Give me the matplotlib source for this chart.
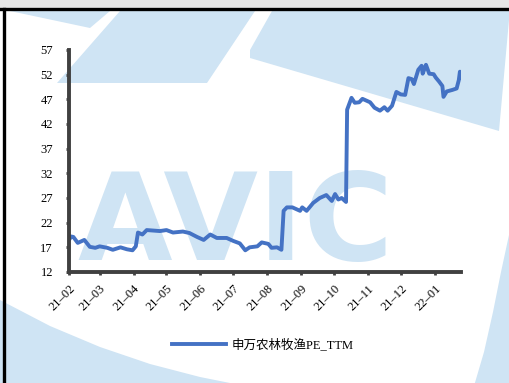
import pandas as pd
import matplotlib.pyplot as plt
import matplotlib.dates as mdates
from matplotlib.patches import Polygon, Rectangle

# 申万农林牧渔 PE-TTM
dates = ["2021-02-01", "2021-02-03", "2021-02-05", "2021-02-09", "2021-02-15", "2021-02-20",
         "2021-02-25", "2021-03-01", "2021-03-08", "2021-03-13", "2021-03-20", "2021-03-26",
         "2021-03-31", "2021-04-03", "2021-04-05", "2021-04-09", "2021-04-13", "2021-04-25",
         "2021-05-01", "2021-05-07", "2021-05-16", "2021-05-22", "2021-05-29", "2021-06-04",
         "2021-06-10", "2021-06-16", "2021-06-25", "2021-07-01", "2021-07-07", "2021-07-12",
         "2021-07-16", "2021-07-23", "2021-07-27", "2021-08-02", "2021-08-05", "2021-08-10",
         "2021-08-14", "2021-08-16", "2021-08-19", "2021-08-24", "2021-08-31", "2021-09-02",
         "2021-09-06", "2021-09-12", "2021-09-18", "2021-09-24", "2021-09-29", "2021-10-02",
         "2021-10-05", "2021-10-08", "2021-10-12", "2021-10-13", "2021-10-17", "2021-10-20",
         "2021-10-24", "2021-10-27", "2021-11-03", "2021-11-07", "2021-11-12", "2021-11-16",
         "2021-11-19", "2021-11-23", "2021-11-27", "2021-12-01", "2021-12-05", "2021-12-08",
         "2021-12-11", "2021-12-13", "2021-12-17", "2021-12-20", "2021-12-21", "2021-12-24",
         "2021-12-27", "2021-12-31", "2022-01-02", "2022-01-05", "2022-01-08", "2022-01-09",
         "2022-01-12", "2022-01-17", "2022-01-21", "2022-01-23", "2022-01-24", "2022-01-25"]
pe_ttm = [18.5, 19.2, 19.1, 17.9, 18.5, 17.1,
          16.9, 17.2, 16.9, 16.5, 17.0, 16.6,
          16.4, 17.2, 20.0, 19.6, 20.5, 20.3,
          20.5, 20.0, 20.2, 19.9, 19.1, 18.5,
          19.6, 18.9, 18.9, 18.3, 17.8, 16.4,
          17.0, 17.2, 18.0, 17.7, 16.9, 17.0,
          16.5, 24.4, 25.1, 25.1, 24.4, 25.1,
          24.4, 26.0, 27.0, 27.6, 26.4, 27.8,
          26.7, 27.0, 26.2, 44.9, 47.3, 46.3,
          46.4, 47.1, 46.4, 45.3, 44.7, 45.4,
          44.7, 45.7, 48.5, 48.0, 47.9, 51.3,
          51.1, 50.1, 53.0, 53.8, 52.2, 54.0,
          52.2, 52.1, 51.4, 50.6, 49.7, 47.5,
          48.6, 48.9, 49.2, 50.9, 52.6, 51.4]
series_name = "申万农林牧渔PE_TTM"
y_ticks = [12, 17, 22, 27, 32, 37, 42, 47, 52, 57]

dates = pd.to_datetime(dates)
month_ticks = pd.date_range("2021-02-01", "2022-01-01", freq="MS")

wm = "#cfe4f4"
W, H = 509, 383

fig = plt.figure(figsize=(W / 100, H / 100), dpi=100)

# background layer in pixel units: watermark, header band, border
bg = fig.add_axes([0, 0, 1, 1], zorder=-1)
bg.set_xlim(0, W)
bg.set_ylim(H, 0)
bg.axis("off")
bg.add_patch(Polygon([(0, 300), (50, 326), (100, 347), (150, 364), (200, 377),
                      (245, 386), (0, 386)], color=wm, lw=0))
bg.add_patch(Polygon([(474, 386), (484, 352), (493, 312), (501, 272), (509, 235),
                      (509, 386)], color=wm, lw=0))
bg.add_patch(Polygon([(10, 11), (110, 11), (90, 28)], color=wm, lw=0))
bg.add_patch(Polygon([(120, 11), (255, 11), (207, 83), (57, 83)], color=wm, lw=0))
bg.add_patch(Polygon([(272, 11), (509, 11), (509, 20), (499, 131), (250, 58), (250, 50)],
                     color=wm, lw=0))
bg.text(236, 260, "AVIC", fontsize=88, fontweight="bold", color=wm,
        ha="center", va="baseline", family="DejaVu Sans")
bg.add_patch(Rectangle((0, 0), W, 8, color="#e6e6e6", lw=0))
bg.plot([0, W], [9, 9], color="black", lw=2.4)
bg.plot([4, 4], [9, H], color="black", lw=2.4)

ax = fig.add_axes([69 / W, 1 - 272 / H, (461 - 69) / W, (272 - 50) / H])
ax.patch.set_alpha(0)
ax.plot(dates, pe_ttm, color="#4472c4", lw=2.8, label=series_name)

ax.set_xlim(pd.Timestamp("2021-02-01"), pd.Timestamp("2022-01-25"))
ax.set_ylim(12, 57)
ax.set_yticks(y_ticks)
ax.set_xticks(month_ticks)
ax.xaxis.set_major_formatter(mdates.DateFormatter("%y–%m"))

for side in ["top", "right"]:
    ax.spines[side].set_visible(False)
for side in ["left", "bottom"]:
    ax.spines[side].set_color("#404040")
    ax.spines[side].set_linewidth(2.8)

ax.tick_params(axis="both", colors="#404040", width=2, length=2.5, labelcolor="black")
ax.tick_params(axis="y", pad=9)
ax.tick_params(axis="x", pad=5)
for lbl in ax.get_yticklabels():
    lbl.set_family("Liberation Serif")
    lbl.set_fontsize(9)
for lbl in ax.get_xticklabels():
    lbl.set_family("Liberation Serif")
    lbl.set_fontsize(9)
    lbl.set_rotation(45)
    lbl.set_ha("right")
    lbl.set_rotation_mode("anchor")

leg = ax.legend(loc="center", bbox_to_anchor=(263 / W, 1 - 345 / H),
                bbox_transform=fig.transFigure, frameon=False,
                handlelength=4.3, handletextpad=0.5,
                prop={"family": ["Liberation Serif", "Noto Sans CJK SC"], "size": 9})

fig.savefig("out.png", dpi=100)
